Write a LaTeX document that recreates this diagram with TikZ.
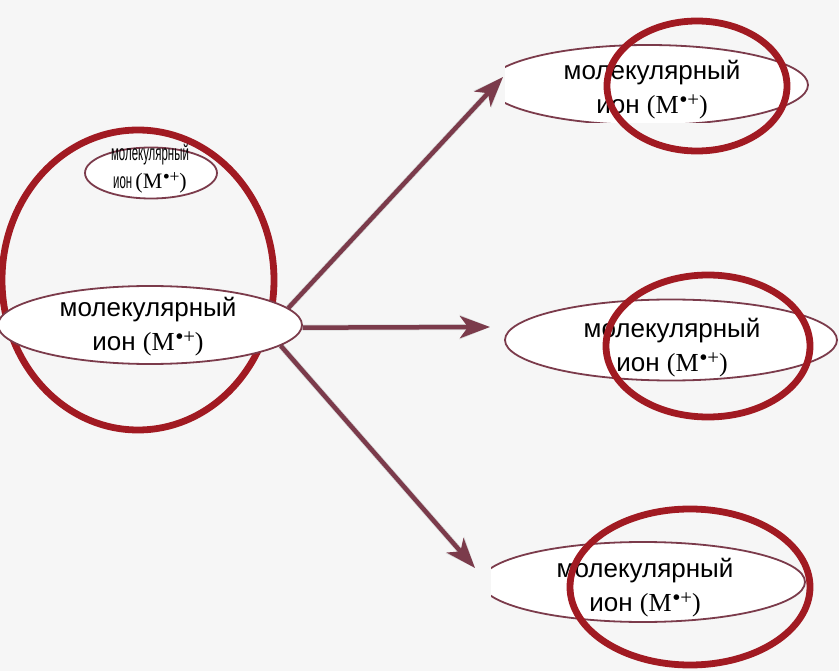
\documentclass[tikz,border=0pt]{standalone}
\usepackage{fontspec}
\setmainfont{Liberation Sans}
\newfontfamily\serifM{Liberation Serif}
\newfontfamily\narrowf[FakeStretch=0.52]{Liberation Sans}
\usetikzlibrary{shapes.geometric,arrows.meta}
\definecolor{bgc}{HTML}{F6F6F6}
\definecolor{ionline}{HTML}{7B3B4B}
\definecolor{redc}{HTML}{A11A22}
\newcommand{\mion}{ион {\serifM(M\kern0.05em\raisebox{0.3em}{\scalebox{0.8}{\textbf{•}+}})}}
\begin{document}
\begin{tikzpicture}[x=1pt,y=-1pt,
  oval/.style={ellipse, draw=ionline, line width=1.8pt, fill=white, inner sep=0pt},
  ring/.style={ellipse, draw=redc, line width=6.8pt, inner sep=0pt},
  lbl/.style={align=center, font=\fontsize{26}{34}\selectfont, inner sep=0pt},
  smalllbl/.style={align=center, font=\narrowf\fontsize{22}{28}\selectfont, inner sep=0pt},
  arr/.style={draw=ionline, line width=4.5pt, -{Stealth[length=30pt,width=22pt,inset=8pt]}},
  arrshadow/.style={draw=black, opacity=0.12, line width=6pt, -{Stealth[length=30pt,width=24pt,inset=8pt]}}]
\fill[bgc] (0,0) rectangle (839,671);
\useasboundingbox (0,0) rectangle (839,671);
\clip (0,0) rectangle (839,671);

% left group
\node[ring, minimum width=272pt, minimum height=300pt] (bigring) at (138,280) {};
\node[oval, minimum width=304pt, minimum height=78pt] (main) at (150,325) {};
\node[lbl] (mainlbl) at (148,327) {молекулярный\\\mion};
\node[oval, minimum width=132pt, minimum height=51pt] (small) at (151,173) {};
\node[smalllbl] (smalllbl) at (150,169) {молекулярный\\\mion};

% arrow targets
\coordinate (t1) at (503,77);
\coordinate (t2) at (490,327);
\coordinate (t3) at (475,568);

% arrow shadows
\begin{scope}[shift={(2,4)}]
\draw[arrshadow] (main.7) -- (t1);
\draw[arrshadow] (main.-1) -- (t2);
\draw[arrshadow] (main.-9) -- (t3);
\end{scope}
\draw[arr] (main.7) -- (t1);
\draw[arr] (main.-1) -- (t2);
\draw[arr] (main.-9) -- (t3);

% top right (ellipse cropped at left and bottom)
\begin{scope}
\clip (505,0) rectangle (839,123);
\node[oval, minimum width=320pt, minimum height=80pt] (o1) at (648,85) {};
\end{scope}
\node[lbl] (l1) at (652,90) {молекулярный\\\mion};
\node[ring, minimum width=180pt, minimum height=130pt] (r1) at (697,86) {};

% middle right
\node[oval, minimum width=332pt, minimum height=81pt] (o2) at (671,340) {};
\node[lbl] (l2) at (672,348) {молекулярный\\\mion};
\node[ring, minimum width=204pt, minimum height=142pt] (r2) at (708,346) {};

% bottom right (ellipse cropped at left)
\begin{scope}
\clip (491,0) rectangle (839,671);
\node[oval, minimum width=324pt, minimum height=80pt] (o3) at (643,582) {};
\end{scope}
\node[lbl] (l3) at (645,588) {молекулярный\\\mion};
\node[ring, minimum width=240pt, minimum height=156pt] (r3) at (690,587) {};
\end{tikzpicture}
\end{document}
